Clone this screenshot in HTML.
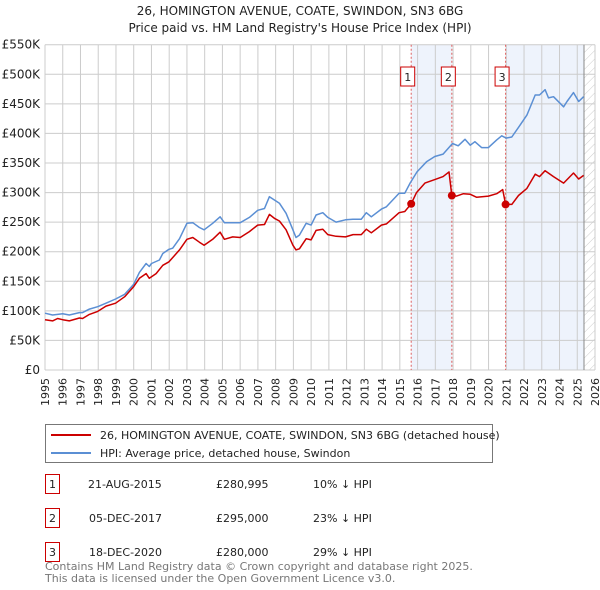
<!DOCTYPE html>
<html><head><meta charset="utf-8"><style>
body{margin:0;background:#fff;font-family:"Liberation Sans","DejaVu Sans",sans-serif;}
svg{display:block}
</style></head><body>
<svg id="chart" width="600" height="590" viewBox="0 0 600 590" font-family="DejaVu Sans, Liberation Sans, sans-serif">
<text x="300" y="15" text-anchor="middle" font-size="12" fill="#222">26, HOMINGTON AVENUE, COATE, SWINDON, SN3 6BG</text>
<text x="300" y="32" text-anchor="middle" font-size="12" fill="#222">Price paid vs. HM Land Registry's House Price Index (HPI)</text>
<g id="plot"></g>
<g>
<rect x="45.5" y="424.5" width="447" height="38" fill="#fff" stroke="#777"/>
<line x1="51" y1="435" x2="91" y2="435" stroke="#cc0000" stroke-width="2"/>
<text x="100" y="439" font-size="11" fill="#222">26, HOMINGTON AVENUE, COATE, SWINDON, SN3 6BG (detached house)</text>
<line x1="51" y1="453" x2="91" y2="453" stroke="#5b8fd4" stroke-width="2"/>
<text x="100" y="457" font-size="11" fill="#222">HPI: Average price, detached house, Swindon</text>
</g>
<g font-size="11" fill="#222">
<rect x="45.5" y="474.5" width="14" height="19" fill="#fff" stroke="#cc0000"/><text x="52.5" y="488" text-anchor="middle">1</text>
<text x="88" y="488">21-AUG-2015</text><text x="216" y="488">£280,995</text><text x="313" y="488">10% ↓ HPI</text>
<rect x="45.5" y="508.5" width="14" height="19" fill="#fff" stroke="#cc0000"/><text x="52.5" y="522" text-anchor="middle">2</text>
<text x="89" y="522">05-DEC-2017</text><text x="216" y="522">£295,000</text><text x="313" y="522">23% ↓ HPI</text>
<rect x="45.5" y="542.5" width="14" height="19" fill="#fff" stroke="#cc0000"/><text x="52.5" y="556" text-anchor="middle">3</text>
<text x="89" y="556">18-DEC-2020</text><text x="216" y="556">£280,000</text><text x="313" y="556">29% ↓ HPI</text>
</g>
<text x="45" y="570" font-size="11" fill="#777">Contains HM Land Registry data © Crown copyright and database right 2025.</text>
<text x="45" y="582" font-size="11" fill="#777">This data is licensed under the Open Government Licence v3.0.</text>
</svg>
<script>
const hpiYears=[
1995.0,1995.43,1996.0,1996.37,1996.94,1997.12,1997.5,1997.97,1998.44,1998.98,
1999.49,2000.0,2000.32,2000.7,2000.88,2001.0,2001.45,2001.64,2001.99,2002.2,
2002.58,2003.0,2003.33,2003.7,2003.97,2004.45,2004.87,2005.11,2005.58,2006.0,
2006.52,2006.99,2007.37,2007.65,2007.95,2008.21,2008.59,2008.97,2009.15,2009.34,
2009.72,2010.0,2010.28,2010.66,2010.94,2011.41,2011.94,2012.36,2012.83,2013.11,
2013.39,2013.96,2014.24,2014.96,2015.28,2015.58,2015.97,2016.5,2016.97,2017.44,
2017.97,2018.29,2018.67,2018.97,2019.23,2019.61,2019.99,2020.46,2020.74,2020.99,
2021.31,2021.78,2022.16,2022.63,2022.87,2023.19,2023.38,2023.66,2024.23,2024.42,
2024.79,2025.08,2025.36];
const hpiValues=[
96,93,95,93,97,97,103,107,113,120,
128,145,165,180,175,180,186,197,204,206,
222,248,249,241,237,248,259,249,249,249,
258,270,273,293,287,282,265,237,224,228,
248,245,262,266,258,250,254,255,255,266,
259,272,276,299,299,316,335,352,361,365,
383,379,390,380,386,376,376,389,396,392,
394,414,431,465,465,474,460,462,445,454,
469,454,462];
const redYears=[
1995.0,1995.43,1995.71,1996.0,1996.37,1996.94,1997.12,1997.5,1997.97,1998.44,
1998.98,1999.49,2000.0,2000.32,2000.7,2000.88,2001.26,2001.64,2001.99,2002.58,
2003.0,2003.33,2003.7,2003.97,2004.45,2004.87,2005.11,2005.58,2006.0,2006.52,
2006.99,2007.37,2007.65,2007.95,2008.21,2008.59,2008.97,2009.15,2009.34,2009.72,
2010.0,2010.28,2010.66,2010.94,2011.41,2011.94,2012.36,2012.83,2013.11,2013.39,
2013.96,2014.24,2014.96,2015.28,2015.64,2015.94,2016.41,2016.97,2017.44,2017.77,
2017.93,2018.2,2018.58,2018.97,2019.33,2019.99,2020.46,2020.8,2020.96,2021.31,
2021.69,2022.16,2022.63,2022.87,2023.19,2023.66,2024.23,2024.79,2025.08,2025.36];
const redValues=[
85,83,87,85,83,88,87,94,99,108,
113,124,141,155,163,155,163,177,183,203,
221,224,216,211,221,233,221,225,224,234,
245,246,263,256,252,237,211,203,205,222,
220,236,238,229,226,225,229,229,238,232,
245,247,266,268,281,300,316,322,327,335,
295,294,298,297,292,294,298,305,280,280,
295,307,331,327,337,327,316,333,323,329];
const saleYears=[2015.64,2017.93,2020.96];
const saleValues=[280.995,295,280];
const saleLabels=["1","2","3"];
const yTicks=[0,50,100,150,200,250,300,350,400,450,500,550];
const yTickLabels=["£0","£50K","£100K","£150K","£200K","£250K","£300K","£350K","£400K","£450K","£500K","£550K"];
const xTicks=[1995,1996,1997,1998,1999,2000,2001,2002,2003,2004,2005,2006,2007,2008,2009,2010,2011,2012,2013,2014,2015,2016,2017,2018,2019,2020,2021,2022,2023,2024,2025,2026];
const dataEnd=2025.38;

const X0=45,X1=595,Y0=370,Y1=44.7;
const xs=y=>X0+(y-1995)/(2026-1995)*(X1-X0);
const ys=v=>Y0-v/550*(Y0-Y1);
const NS="http://www.w3.org/2000/svg";
const plot=document.getElementById('plot');
function mk(tag,attrs,parent){const e=document.createElementNS(NS,tag);for(const k in attrs)e.setAttribute(k,attrs[k]);(parent||plot).appendChild(e);return e;}

let s1=mk('rect',{x:xs(saleYears[0]),y:Y1,width:xs(saleYears[1])-xs(saleYears[0]),height:Y0-Y1,fill:'#eef3fc'});


let s2=mk('rect',{x:xs(saleYears[2]),y:Y1,width:xs(dataEnd)-xs(saleYears[2]),height:Y0-Y1,fill:'#eef3fc'});


const defs=mk('defs',{});
const pat=mk('pattern',{id:'hatch',width:6,height:6,patternUnits:'userSpaceOnUse',patternTransform:'rotate(45)'},defs);
mk('line',{x1:0,y1:0,x2:0,y2:6,stroke:'#ccc','stroke-width':1},pat);
let h=mk('rect',{x:xs(dataEnd),y:Y1,width:X1-xs(dataEnd),height:Y0-Y1,fill:'url(#hatch)'});



xTicks.forEach(t=>{
  const g=mk('line',{x1:xs(t),x2:xs(t),y1:Y1,y2:Y0,stroke:'#cccccc','stroke-width':1});
  
  
  const tx=mk('text',{transform:`translate(${xs(t)+4},${Y0+8}) rotate(-90)`,'text-anchor':'end','font-size':11,fill:'#222'});
  tx.textContent=t;
  
  
});
yTicks.forEach((t,i)=>{
  const g=mk('line',{x1:X0,x2:X1,y1:ys(t),y2:ys(t),stroke:'#cccccc','stroke-width':1});
  
  
  const tx=mk('text',{x:40,y:ys(t)+4,'text-anchor':'end','font-size':12,fill:'#222'});
  tx.textContent=yTickLabels[i];
  
  
});
let dl=mk('line',{x1:xs(dataEnd),x2:xs(dataEnd),y1:Y1,y2:Y0,stroke:'#888','stroke-width':1});



saleYears.forEach((y,i)=>{
  const l=mk('line',{x1:xs(y),x2:xs(y),y1:Y1,y2:Y0,stroke:'#e06060','stroke-width':1,'stroke-dasharray':'2,2'});
  
  
  const r=mk('rect',{x:xs(y)-10.5,y:67,width:14,height:19,fill:'#fff',stroke:'#cc0000'});
  
  
  const t=mk('text',{x:xs(y)-3.5,y:81,'text-anchor':'middle','font-size':11,fill:'#222'});
  t.textContent=saleLabels[i];
  
  
});

function path(xsArr,vsArr){return xsArr.map((y,i)=>(i?'L':'M')+xs(y).toFixed(1)+','+ys(vsArr[i]).toFixed(1)).join(' ');}
const hp=mk('path',{d:path(hpiYears,hpiValues),fill:'none',stroke:'#5b8fd4','stroke-width':1.5,'stroke-linejoin':'round'});


const rp=mk('path',{d:path(redYears,redValues),fill:'none',stroke:'#cc0000','stroke-width':1.5,'stroke-linejoin':'round'});


saleYears.forEach((y,i)=>{
  const c=mk('circle',{cx:xs(y),cy:ys(saleValues[i]),r:4,fill:'#cc0000'});
  
  
});
</script>
</body></html>
